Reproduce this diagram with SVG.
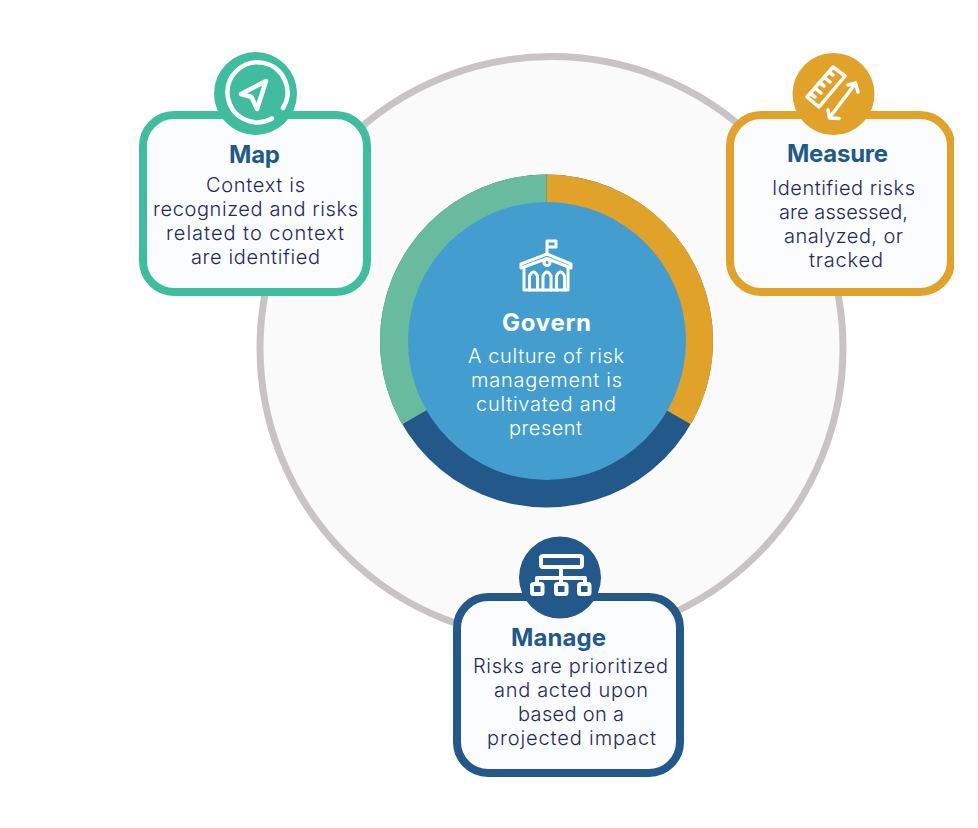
<svg xmlns="http://www.w3.org/2000/svg" width="978" height="828" viewBox="0 0 978 828">
<style>
text{font-family:"Inter","Liberation Sans",sans-serif}
.t{font-size:24px;font-weight:700;fill:#22598a}
.b{font-size:20px;font-weight:300;fill:#1f2a63}
.gt{font-size:24px;font-weight:700;fill:#fff}
.gb{font-size:20px;font-weight:300;fill:#fff}
.card{fill:#fbfcfe;stroke-width:8}
.ic{fill:none;stroke:#fff;stroke-width:3.500;stroke-linecap:round;stroke-linejoin:round}
</style>
<defs><clipPath id="clipR"><rect x="0" y="0" width="954" height="828"/></clipPath></defs>
<rect width="978" height="828" fill="#fff"/>
<g id="backdrop">
<circle cx="551.500" cy="348" r="291.500" fill="#fafafa" stroke="#c8c4c6" stroke-width="7"/>
</g>
<g id="connectors"></g>
<g id="govern">
<circle cx="546.500" cy="341" r="166.500" fill="#22598a"/>
<path d="M546.500 341V174.500A166.500 166.500 0 0 1 690.700 424.300Z" fill="#e0a229"/>
<path d="M546.500 341V174.500A166.500 166.500 0 0 0 402.300 424.300Z" fill="#68bb9f"/>
<circle cx="547" cy="341" r="139" fill="#439ecf"/>
<g class="ic" style="stroke-width:3">
<path d="M547 254V241H556V247H547"/>
<path d="M547 254L571 264V268L547 258.500L521 268V264Z"/>
<path d="M524 268V290H568V268"/>
<circle cx="547" cy="262.500" r="3"/>
<path d="M529.500 290V276Q533.500 268 537.500 276V290M543 290V276Q547 268 551 276V290M556.500 290V276Q560.500 268 564.500 276V290"/>
</g>
<text class="gt" x="502" y="331" textLength="89">Govern</text>
<text class="gb" x="468" y="363" textLength="156">A culture of risk</text>
<text class="gb" x="471" y="387" textLength="151">management is</text>
<text class="gb" x="476" y="411" textLength="140">cultivated and</text>
<text class="gb" x="509" y="435" textLength="73">present</text>
</g>
<g id="map">
<rect class="card" x="143" y="115" width="224" height="177" rx="31" stroke="#3fbd9e"/>
<circle cx="255.500" cy="93.500" r="41.500" fill="#3fbd9e"/>
<path class="ic" d="M283 108A30 30 0 1 0 272 118.500" style="stroke-width:4.500"/>
<path class="ic" d="M266 81L241 94L251.500 97L257 109Z" style="stroke-width:4.500"/>
<text class="t" x="229" y="163" textLength="51">Map</text>
<text class="b" x="206" y="192" textLength="99">Context is</text>
<text class="b" x="153" y="216" textLength="205">recognized and risks</text>
<text class="b" x="166" y="240" textLength="178">related to context</text>
<text class="b" x="191" y="264" textLength="129">are identified</text>
</g>
<g id="measure" clip-path="url(#clipR)">
<rect class="card" x="730" y="115" width="221" height="177" rx="31" stroke="#e0a229"/>
<circle cx="833.500" cy="94" r="41" fill="#e0a229"/>
<g class="ic">
<path d="M833 67L845 76L819 107L807 97Z"/>
<path d="M829 72L833 75M824.500 77.500L830 82M820 83L824 86M815.500 88.500L821 93M811 94L815 97"/>
<path d="M855 84L830 117M848 85L855.500 83L858 92M828 110L829.500 118L839 118.500"/>
</g>
<text class="t" x="787" y="162" textLength="101">Measure</text>
<text class="b" x="772" y="195" textLength="143">Identified risks</text>
<text class="b" x="779" y="219" textLength="129">are assessed,</text>
<text class="b" x="784" y="243" textLength="119">analyzed, or</text>
<text class="b" x="809" y="267" textLength="74">tracked</text>
</g>
<g id="manage">
<rect class="card" x="457" y="597" width="223" height="176" rx="31" stroke="#22598a"/>
<circle cx="560" cy="577.500" r="41" fill="#22598a"/>
<g class="ic" style="stroke-width:4">
<rect x="541" y="556" width="41" height="11" rx="2"/>
<path d="M561 568V578M537 584V578H585V584M561 578V584"/>
<rect x="532" y="584" width="10.500" height="10" rx="1.500"/>
<rect x="556" y="584" width="10.500" height="10" rx="1.500"/>
<rect x="579" y="584" width="10.500" height="10" rx="1.500"/>
</g>
<text class="t" x="511" y="646" textLength="95">Manage</text>
<text class="b" x="473" y="673" textLength="195">Risks are prioritized</text>
<text class="b" x="494" y="697" textLength="154">and acted upon</text>
<text class="b" x="518" y="721" textLength="106">based on a</text>
<text class="b" x="487" y="745" textLength="169">projected impact</text>
</g>
</svg>
